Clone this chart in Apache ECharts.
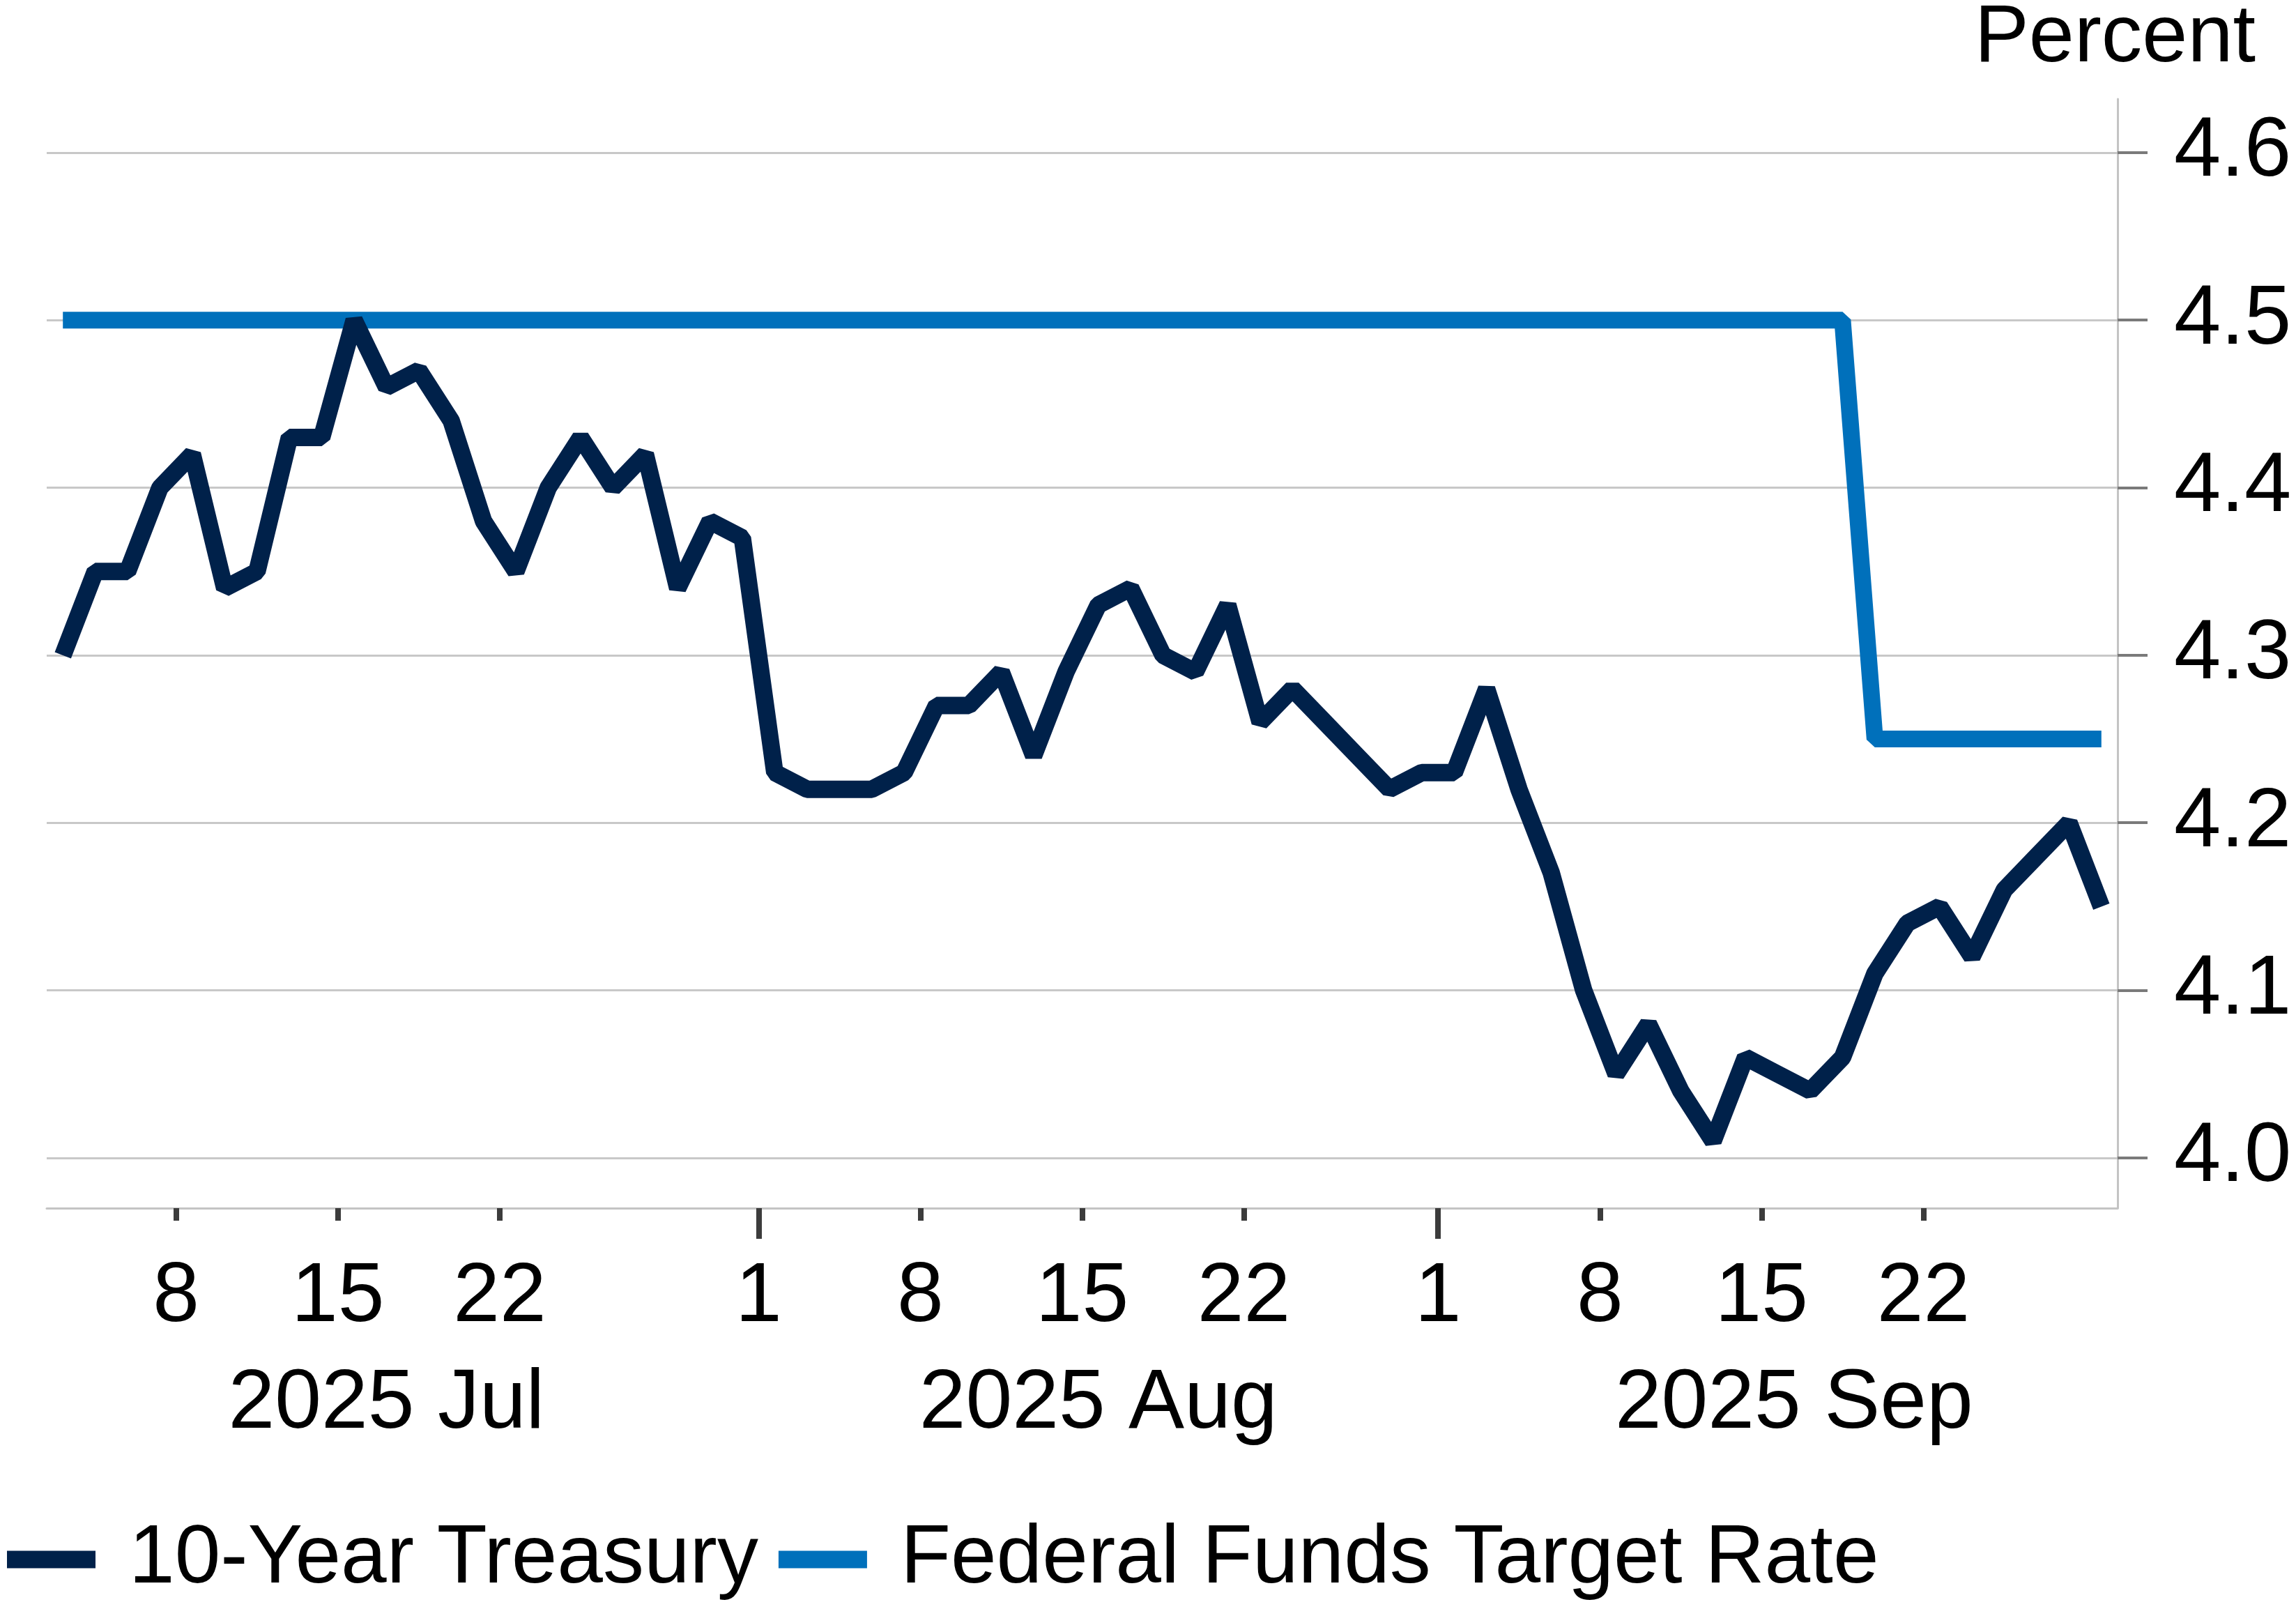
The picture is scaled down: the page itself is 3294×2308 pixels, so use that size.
<!DOCTYPE html>
<html>
<head>
<meta charset="utf-8">
<script src="https://cdn.jsdelivr.net/npm/echarts@6/dist/echarts.min.js"></script>
<style type="text/css">
html,body{margin:0;padding:0;background:#fff;}
#chart{width:3294px;height:2308px;}
</style>
</head>
<body>
<div id="chart"></div>
<script type="text/javascript">
// first trading day shown, one point per weekday (holidays carry the previous value)
var startDate = '2025-07-02';

var treasury = [
    4.30, 4.35, 4.35, 4.40, 4.42, 4.34, 4.35, 4.43, 4.43, 4.50,
    4.46, 4.47, 4.44, 4.38, 4.35, 4.40, 4.43, 4.40, 4.42, 4.34,
    4.38, 4.37, 4.23, 4.22, 4.22, 4.22, 4.23, 4.27, 4.27, 4.29,
    4.24, 4.29, 4.33, 4.34, 4.30, 4.29, 4.33, 4.26, 4.28, 4.26,
    4.24, 4.22, 4.23, 4.23, 4.28, 4.22, 4.17, 4.10, 4.05, 4.08,
    4.04, 4.01, 4.06, 4.05, 4.04, 4.06, 4.11, 4.14, 4.15, 4.12,
    4.16, 4.18, 4.20, 4.15
];
var fedFunds = [
    4.50, 4.50, 4.50, 4.50, 4.50, 4.50, 4.50, 4.50, 4.50, 4.50,
    4.50, 4.50, 4.50, 4.50, 4.50, 4.50, 4.50, 4.50, 4.50, 4.50,
    4.50, 4.50, 4.50, 4.50, 4.50, 4.50, 4.50, 4.50, 4.50, 4.50,
    4.50, 4.50, 4.50, 4.50, 4.50, 4.50, 4.50, 4.50, 4.50, 4.50,
    4.50, 4.50, 4.50, 4.50, 4.50, 4.50, 4.50, 4.50, 4.50, 4.50,
    4.50, 4.50, 4.50, 4.50, 4.50, 4.50, 4.25, 4.25, 4.25, 4.25,
    4.25, 4.25, 4.25, 4.25
];
var seriesNames = ['10-Year Treasury', 'Federal Funds Target Rate'];

// x axis tick dates (short ticks) and month starts (long ticks)
var dayTicks = ['2025-07-08', '2025-07-15', '2025-07-22', '2025-08-08', '2025-08-15', '2025-08-22', '2025-09-08', '2025-09-15', '2025-09-22'];
var monthStarts = ['2025-08-01', '2025-09-01'];
var months = [
    {first: '2025-07-01', last: '2025-07-31', label: '2025 Jul'},
    {first: '2025-08-01', last: '2025-08-31', label: '2025 Aug'},
    {first: '2025-09-01', last: '2025-09-30', label: '2025 Sep'}
];
var yTicks = [4.0, 4.1, 4.2, 4.3, 4.4, 4.5, 4.6];

var FONT = '"Liberation Sans", Arial, sans-serif';

function parseDay(s) {
    var p = s.split('-');
    return Date.UTC(+p[0], +p[1] - 1, +p[2]);
}
// signed count of weekdays from startDate to s
function weekdayIndex(s) {
    var a = parseDay(startDate), b = parseDay(s), day = 86400000, n = 0;
    if (b >= a) {
        for (var t = a; t < b; t += day) {
            var w = new Date(t + day).getUTCDay();
            if (w != 0 && w != 6) n++;
        }
    } else {
        for (var t2 = a; t2 > b; t2 -= day) {
            var w2 = new Date(t2 - day).getUTCDay();
            if (w2 != 0 && w2 != 6) n--;
        }
    }
    return n;
}
// nearest weekday inside a month, stepping in a direction
function edgeWeekday(s, step) {
    var t = parseDay(s);
    while (new Date(t).getUTCDay() == 0 || new Date(t).getUTCDay() == 6) t += step * 86400000;
    return weekdayIndex(new Date(t).toISOString().slice(0, 10));
}

var labelMap = {};
var dayTickPos = dayTicks.map(function (d) {
    var v = weekdayIndex(d) - 0.5;
    labelMap[v] = String(+d.slice(8));
    return v;
});
var monthTickPos = monthStarts.map(function (d) {
    var v = weekdayIndex(d) - 0.5;
    labelMap[v] = String(+d.slice(8));
    return v;
});
var allTickPos = dayTickPos.concat(monthTickPos).sort(function (a, b) { return a - b; });

var monthMap = {};
var monthPos = months.map(function (m) {
    var c = (edgeWeekday(m.first, 1) + edgeWeekday(m.last, -1)) / 2;
    monthMap[c] = m.label;
    return c;
});

var xMin = -0.5, xMax = treasury.length - 0.5;

var chart = echarts.init(document.getElementById('chart'));
var option = {
    animation: false,
    backgroundColor: '#fff',
    graphic: [{
        type: 'text',
        x: 3236, y: 56,
        style: {
            text: 'Percent', align: 'right', verticalAlign: 'middle',
            fontFamily: 'Liberation Sans', fontSize: 117, fill: '#000'
        }
    }],
    legend: {
        data: seriesNames,
        left: 5,
        top: 2173,
        icon: 'rect',
        itemWidth: 127,
        itemHeight: 25,
        itemGap: 29,
        textStyle: {fontFamily: FONT, fontSize: 118, color: '#000', padding: [0, 0, 0, 43]}
    },
    grid: {left: 67, right: 256, top: 142, bottom: 575, containLabel: false},
    xAxis: [
        {
            type: 'value', min: xMin, max: xMax, position: 'bottom',
            axisLine: {show: true, onZero: false, lineStyle: {color: '#c4c4c4', width: 3}},
            axisTick: {show: true, length: 18, customValues: dayTickPos, lineStyle: {color: '#3c3c3c', width: 8}},
            axisLabel: {
                customValues: allTickPos, margin: 69,
                fontFamily: FONT, fontSize: 120, color: '#000',
                formatter: function (v) { return labelMap[v] || ''; }
            },
            splitLine: {show: false}
        },
        {
            type: 'value', min: xMin, max: xMax, position: 'bottom',
            axisLine: {show: false, onZero: false},
            axisTick: {show: true, length: 44, customValues: monthTickPos, lineStyle: {color: '#3c3c3c', width: 8}},
            axisLabel: {show: false},
            splitLine: {show: false}
        },
        {
            type: 'value', min: xMin, max: xMax, position: 'bottom',
            axisLine: {show: false, onZero: false},
            axisTick: {show: false},
            axisLabel: {
                customValues: monthPos, margin: 222,
                fontFamily: FONT, fontSize: 120, color: '#000',
                formatter: function (v) { return monthMap[v] || ''; }
            },
            splitLine: {show: false}
        }
    ],
    yAxis: {
        type: 'value', position: 'right', min: 3.970, max: 4.632,
        axisLine: {show: true, onZero: false, lineStyle: {color: '#c4c4c4', width: 3}},
        axisTick: {show: true, length: 43, customValues: yTicks, lineStyle: {color: '#7a7a7a', width: 4}},
        axisLabel: {
            customValues: yTicks, margin: 81, padding: [0, 0, 10, 0],
            fontFamily: FONT, fontSize: 121, color: '#000',
            formatter: function (v) { return v.toFixed(1); }
        },
        splitLine: {show: true, lineStyle: {color: '#c8c8c8', width: 3}}
    },
    series: [
        {
            name: seriesNames[0], type: 'line', z: 3,
            data: treasury.map(function (v, i) { return [i, v]; }),
            showSymbol: false, symbol: 'none',
            lineStyle: {color: '#00214a', width: 25},
            itemStyle: {color: '#00214a'}
        },
        {
            name: seriesNames[1], type: 'line', z: 2,
            data: fedFunds.map(function (v, i) { return [i, v]; }),
            showSymbol: false, symbol: 'none',
            lineStyle: {color: '#0070bb', width: 24},
            itemStyle: {color: '#0070bb'}
        }
    ]
};
chart.setOption(option);
</script>
</body>
</html>
